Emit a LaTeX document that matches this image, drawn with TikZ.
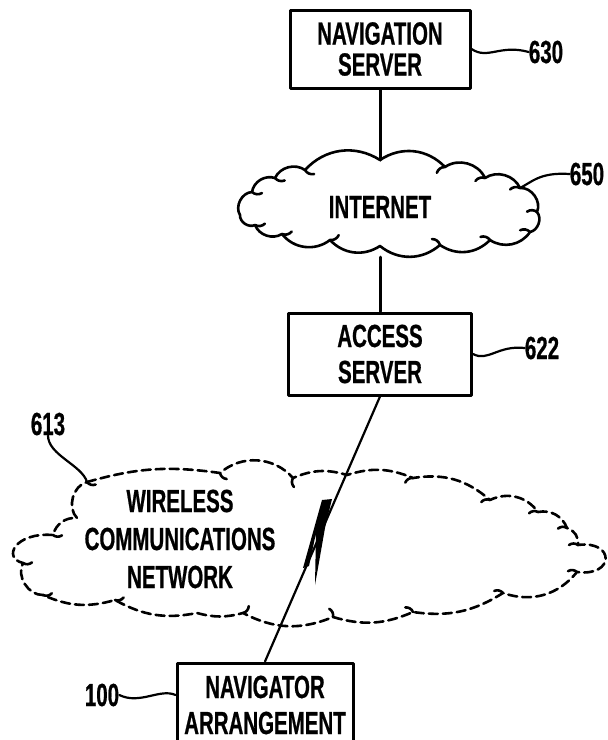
\documentclass[tikz,border=0pt]{standalone}
\usepackage{fontspec}
\newfontfamily\patfont{Liberation Sans}[FakeStretch=0.64,BoldFeatures={FakeBold=0.6}]
\newcommand{\patlabel}{\patfont\bfseries\fontsize{32}{36}\selectfont}
\usetikzlibrary{positioning,calc}

\begin{document}
\begin{tikzpicture}[x=1pt,y=-1pt,line cap=round,line join=round,
    box/.style={draw,line width=3pt,inner sep=0pt,align=center,font=\patlabel},
    lbl/.style={inner sep=0pt,align=center,font=\patlabel},
    wire/.style={line width=3pt},
    link/.style={line width=2.2pt},
    lead/.style={line width=2.2pt},
    puffs/.style={line width=2.6pt},
    dashpuffs/.style={line width=2.6pt,dash pattern=on 9pt off 5pt}]
  \clip (0,0) rectangle (608,740);

  % boxes
  \node[box,minimum width=180,minimum height=78] (navsrv) at (380,49) {NAVIGATION\\[-5pt]SERVER};
  \node[box,minimum width=183,minimum height=82] (access) at (380,354) {ACCESS\\SERVER};
  \node[box,minimum width=176,minimum height=84] (navi) at (265,705) {NAVIGATOR\\ARRANGEMENT};

  % cloud texts
  \node[lbl] (inet) at (380,207) {INTERNET};
  \node[lbl,font=\patfont\bfseries\fontsize{32}{38}\selectfont] (wcn) at (180,539) {WIRELESS\\COMMUNICATIONS\\NETWORK};

  % reference numerals
  \node[lbl] (n630) at (546,52) {630};
  \node[lbl] (n650) at (587,174) {650};
  \node[lbl] (n622) at (542,348) {622};
  \node[lbl] (n613) at (48,424) {613};
  \node[lbl] (n100) at (102,695) {100};

  % internet cloud
  \draw[puffs] (240,215) to[bend left=60] (252,192) to[bend left=50] (275,178)
    to[bend left=50] (305,170) to[bend left=40] (380,160) to[bend left=40] (445,167)
    to[bend left=50] (485,178) to[bend left=50] (520,188) to[bend left=60] (537,212)
    to[bend left=60] (530,232) to[bend left=45] (490,240) to[bend left=40] (440,245)
    to[bend left=40] (380,246) to[bend left=40] (330,240) to[bend left=45] (282,234)
    to[bend left=50] (255,225) to[bend left=60] cycle;
  \foreach \x/\y in {252/192,275/178,305/170,445/167,485/178,520/188,537/212,530/232,490/240,440/245,330/240,282/234,255/225}
    \draw[puffs] (\x,\y) to[bend right=35] ($(\x,\y)!10pt!(389,207)$);

  % wireless cloud
  \draw[dashpuffs] (87,482) to[bend left=12] (220,473) to[bend left=45] (293,478)
    to[bend left=20] (347,475) to[bend left=20] (413,478) to[bend left=25] (490,500)
    to[bend left=40] (538,512) to[bend left=40] (567,528) to[bend left=40] (578,545)
    .. controls (615,540) and (615,577) .. (577,572) to[bend left=35] (503,593)
    to[bend left=20] (413,612) to[bend left=20] (333,617) to[bend left=25] (243,613)
    to[bend left=15] (197,613) to[bend left=20] (115,600) to[bend left=20] (43,595)
    to[bend left=60] (23,563) .. controls (2,558) and (15,532) .. (53,535)
    to[bend left=40] (77,518) to[bend left=60] cycle;
  \foreach \x/\y in {87/482,220/473,293/478,413/478,490/500,538/512,567/528,578/545,577/572,503/593,413/612,333/617,243/613,115/600,43/595,23/563,53/535}
    \draw[puffs] (\x,\y) to[bend right=35] ($(\x,\y)!9pt!(300,545)$);

  \coordinate (inettop) at (380,160);
  \coordinate (inetbot) at (380,257);
  \coordinate (inetedge) at (520,188);
  \coordinate (wcnedge) at (87,482);

  % connectors
  \draw[wire] (navsrv.south) -- (inettop);
  \draw[wire] (inetbot) -- (access.north);
  \draw[link] (access.south) -- (navi.north);
  \fill (322,500) -- (332,499) -- (325,528) -- (315,585) -- (316,533) -- (309,566) -- (303,568) -- cycle;

  % leaders
  \draw[lead] (navsrv.east) .. controls (488,60) and (500,44) .. (n630.west);
  \draw[lead] (inetedge) .. controls (532,182) and (540,172) .. (n650.west);
  \draw[lead] (access.east) .. controls (488,362) and (498,345) .. (n622.west);
  \draw[lead] (n613.south) .. controls (48,455) and (82,465) .. (wcnedge);
  \draw[lead] (n100.east) .. controls (140,705) and (160,688) .. (navi.west |- n100.east);
\end{tikzpicture}
\end{document}
